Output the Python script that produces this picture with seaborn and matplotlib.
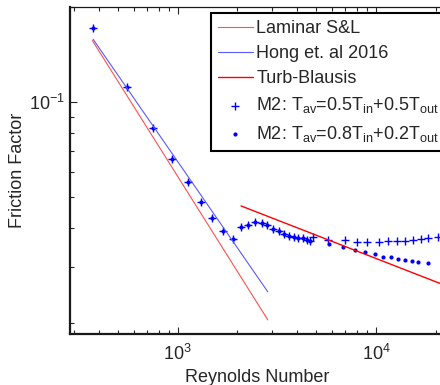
import numpy as np
import pandas as pd
import matplotlib
matplotlib.use('Agg')
import matplotlib.pyplot as plt
import seaborn as sns
from matplotlib.ticker import NullFormatter, LogLocator

# ---- data ----
# analytical / correlation lines
re_laminar = [371, 2845]
f_laminar = [0.1569, 0.0204]
re_hong = [374, 2844]
f_hong = [0.1585, 0.02505]
re_blasius = [2085, 21020]
f_blasius = [0.0469, 0.02663]

# M2 points shared by both averaging schemes (laminar + transition)
re_shared = [373, 557, 748, 936, 1127, 1311, 1495, 1698, 1889, 2078, 2254, 2454,
             2656, 2820, 3034, 3242, 3449, 3654, 3859, 4057, 4270, 4505, 4648]
f_shared = [0.1717, 0.1116, 0.0826, 0.0659, 0.0560, 0.0481, 0.0428, 0.0390, 0.03675,
            0.0402, 0.0409, 0.0418, 0.0413, 0.0408, 0.0395, 0.0390, 0.0382, 0.0377,
            0.03736, 0.03718, 0.03702, 0.03656, 0.03629]

# turbulent part, T_av = 0.5Tin + 0.5Tout
re_m2a_turb = [4829, 5748, 6979, 8051, 8978, 10390, 11535, 12720, 14005, 15315,
               16864, 18350, 20620]
f_m2a_turb = [0.0375, 0.03656, 0.03656, 0.0361, 0.0361, 0.0361, 0.03629, 0.03629,
              0.03637, 0.03656, 0.03674, 0.03702, 0.03745]

# turbulent part, T_av = 0.8Tin + 0.2Tout
re_m2b_turb = [5815, 6794, 7837, 8802, 9886, 10885, 11904, 12953, 14005, 15136,
               16347, 18350]
f_m2b_turb = [0.03562, 0.03465, 0.03397, 0.0334, 0.03292, 0.0322, 0.0322, 0.0318,
              0.03157, 0.03134, 0.03105, 0.03083]

m2a = pd.DataFrame({'Re': re_shared + re_m2a_turb, 'f': f_shared + f_m2a_turb})
m2b = pd.DataFrame({'Re': re_shared + re_m2b_turb, 'f': f_shared + f_m2b_turb})

# ---- style ----
sns.set_style('ticks')
plt.rcParams['font.family'] = ['Liberation Sans', 'DejaVu Sans']
plt.rcParams['mathtext.fontset'] = 'custom'
plt.rcParams['mathtext.rm'] = 'Liberation Sans'
plt.rcParams['mathtext.it'] = 'Liberation Sans:italic'
plt.rcParams['mathtext.default'] = 'regular'
plt.rcParams['font.size'] = 13

fig = plt.figure(figsize=(4.4, 3.85), dpi=100)
ax = fig.add_axes([70 / 440, 51 / 385, 375 / 440, 327 / 385])

sns.lineplot(x=re_laminar, y=f_laminar, color='#ff5050', lw=0.8, ax=ax,
             label='Laminar S&L', sort=False, estimator=None)
sns.lineplot(x=re_hong, y=f_hong, color='#5a5aff', lw=0.8, ax=ax,
             label='Hong et. al 2016', sort=False, estimator=None)
sns.lineplot(x=re_blasius, y=f_blasius, color='red', lw=1.0, ax=ax,
             label='Turb-Blausis', sort=False, estimator=None)
sns.scatterplot(data=m2a, x='Re', y='f', marker='+', s=40, color='blue',
                linewidth=1.0, ax=ax,
                label=r'M2: T$_{av}$=0.5T$_{in}$+0.5T$_{out}$')
sns.scatterplot(data=m2b, x='Re', y='f', marker='o', s=9, color='blue',
                edgecolor='blue', linewidth=0, ax=ax,
                label=r'M2: T$_{av}$=0.8T$_{in}$+0.2T$_{out}$')

ax.set_xscale('log')
ax.set_yscale('log')
ax.set_xlim(286, 22280)
ax.set_ylim(0.0184, 0.2006)
ax.yaxis.set_major_locator(LogLocator(base=10))
ax.yaxis.set_minor_locator(LogLocator(base=10, subs=np.arange(2, 10)))
ax.xaxis.set_minor_formatter(NullFormatter())
ax.yaxis.set_minor_formatter(NullFormatter())

ax.set_xlabel('Reynolds Number', fontsize=13, labelpad=4)
ax.set_ylabel('Friction Factor', fontsize=13, labelpad=2)

ax.tick_params(which='both', direction='in', top=True, right=True, labelsize=13)
ax.tick_params(axis='x', which='major', pad=7)
ax.tick_params(which='major', length=5, width=0.8)
ax.tick_params(which='minor', length=3, width=0.8)
for side in ['left', 'bottom']:
    ax.spines[side].set_linewidth(1.6)
for side in ['top', 'right']:
    ax.spines[side].set_linewidth(0.9)
for s in ax.spines.values():
    s.set_color('#1a1a1a')

leg = ax.legend(loc='upper left', bbox_to_anchor=(0.376, 0.982), borderaxespad=0,
                fontsize=13, frameon=True, fancybox=False, edgecolor='black',
                framealpha=1, handlelength=1.9, handletextpad=0.2,
                labelspacing=0.45, borderpad=0.4)
leg.get_frame().set_linewidth(1.5)

fig.savefig('out.png', dpi=100)
